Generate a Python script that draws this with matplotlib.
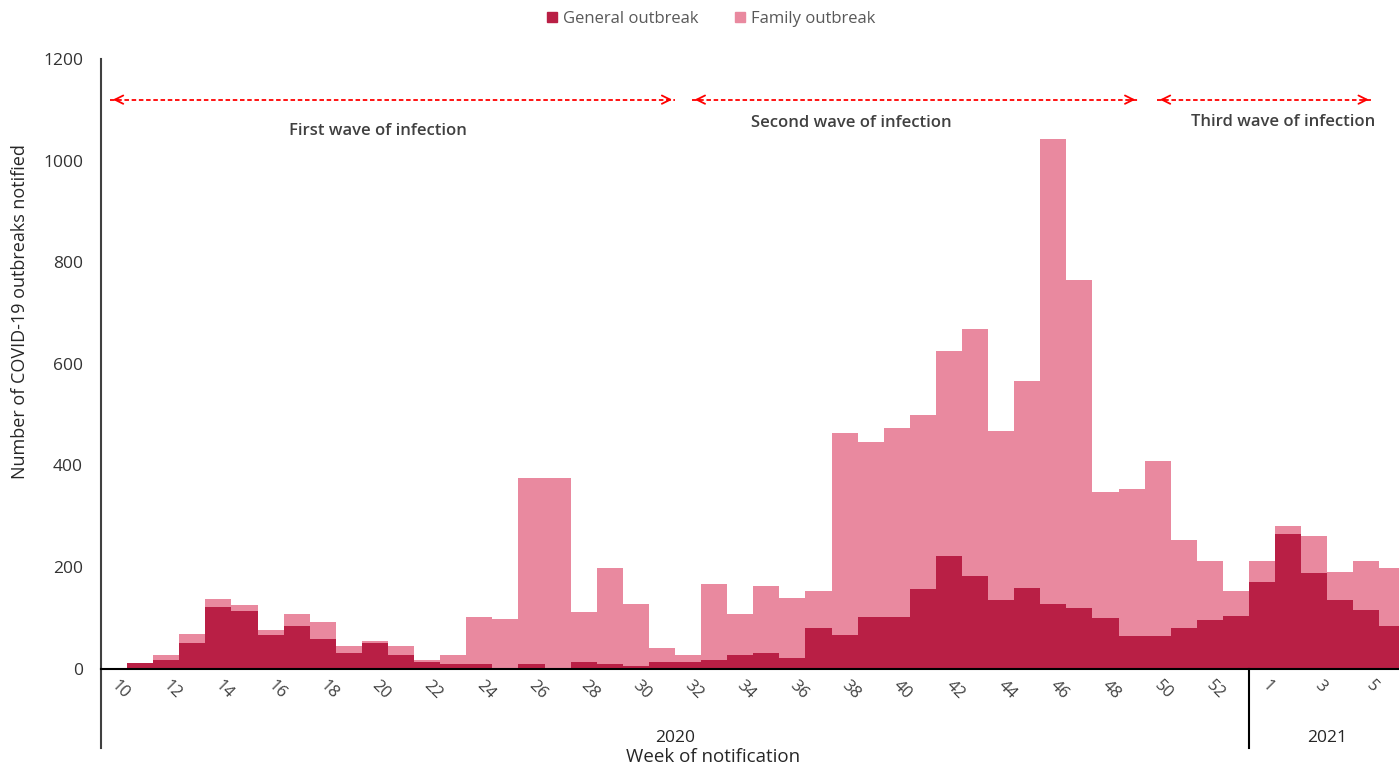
import matplotlib
matplotlib.use("Agg")
import matplotlib.pyplot as plt
import numpy as np
from matplotlib.transforms import ScaledTranslation
from matplotlib.lines import Line2D
from matplotlib.patches import Patch

plt.rcParams['font.family'] = ['Open Sans', 'DejaVu Sans']

# ---- data ----
weeks_2020 = list(range(10, 54))
weeks_2021 = list(range(1, 7))
week_labels = [str(w) for w in weeks_2020] + [str(w) for w in weeks_2021]

general = [0, 12, 18, 50, 121, 113, 66, 85, 58, 30,
           50, 26, 14, 10, 10, 2, 10, 1, 14, 10,
           6, 14, 14, 18, 26, 30, 22, 81, 66, 101,
           101, 156, 222, 183, 136, 159, 128, 120, 100, 65,
           65, 81, 96, 104,
           171, 266, 188, 136, 116, 85]
family = [0, 0, 8, 19, 16, 12, 10, 23, 34, 15,
          4, 19, 3, 16, 91, 95, 365, 374, 98, 189,
          122, 27, 12, 149, 82, 133, 118, 71, 397, 346,
          373, 343, 403, 485, 331, 407, 914, 646, 248, 288,
          343, 173, 115, 48,
          40, 15, 74, 55, 95, 114]

series_names = ["General outbreak", "Family outbreak"]
colors = ["#B91F45", "#E9899F"]
years = ["2020", "2021"]
waves = ["First wave of infection", "Second wave of infection", "Third wave of infection"]
yticks = [0, 200, 400, 600, 800, 1000, 1200]

# ---- figure ----
W, H = 1399, 766
fig = plt.figure(figsize=(W / 100, H / 100), dpi=100)
px_left, px_right, px_top, px_bot = 101, 1405.5, 59, 668.7
ax = fig.add_axes([px_left / W, 1 - px_bot / H, (px_right - px_left) / W, (px_bot - px_top) / H])

x = np.arange(len(week_labels))
ax.bar(x, general, width=1.0, color=colors[0], linewidth=0, label=series_names[0])
ax.bar(x, family, width=1.0, bottom=general, color=colors[1], linewidth=0, label=series_names[1])

ax.set_xlim(-0.5, len(week_labels) - 0.5)
ax.set_ylim(0, 1200)
ax.set_yticks(yticks)
ax.tick_params(axis='y', length=0, pad=13, labelsize=12.5, labelcolor='#333333')

# x tick labels: every other week
tick_idx = [i for i, w in enumerate(week_labels) if (i < len(weeks_2020) and int(w) % 2 == 0 and int(w) <= 52) or (i >= len(weeks_2020) and int(w) % 2 == 1)]
ax.set_xticks(tick_idx)
ax.set_xticklabels([week_labels[i] for i in tick_idx], rotation=-45, ha='center', va='top',
                   fontsize=12, color='#404040')
ax.tick_params(axis='x', length=0, pad=6)
off = ScaledTranslation(6 / 100, 0, fig.dpi_scale_trans)
for lab in ax.get_xticklabels():
    lab.set_transform(lab.get_transform() + off)

for s in ['top', 'right']:
    ax.spines[s].set_visible(False)
ax.spines['left'].set_color('#404040')
ax.spines['left'].set_linewidth(1.5)
ax.spines['bottom'].set_color('black')
ax.spines['bottom'].set_linewidth(1.5)

# extend left spine and year separator below the axis
ext = (748 - px_bot) / (px_bot - px_top)
trans = ax.get_xaxis_transform()
ax.add_line(Line2D([-0.5, -0.5], [0, -ext], transform=trans, color='#404040', lw=1.5, clip_on=False))
sep = len(weeks_2020) - 0.5
ax.add_line(Line2D([sep, sep], [0, -ext], transform=trans, color='black', lw=1.5, clip_on=False))

# year labels
ylab_y = -(738 - px_bot) / (px_bot - px_top)
ax.text((-0.5 + sep) / 2, ylab_y, years[0], transform=trans, ha='center', va='center', fontsize=12.5, color='#262626')
ax.text((sep + len(week_labels) - 0.5) / 2, ylab_y, years[1], transform=trans, ha='center', va='center', fontsize=12.5, color='#262626')
fig.text(713 / W, 1 - 757 / H, "Week of notification", ha='center', va='center', fontsize=13.5, color='#262626')

fig.text(20 / W, 1 - 312 / H, "Number of COVID-19 outbreaks notified", rotation=90,
         ha='center', va='center', fontsize=13, color='#262626')

# wave arrows
def arrow(x0, x1, y):
    ax.plot([x0, x1], [y, y], color='red', lw=1.3, ls=(0, (2.5, 1.5)))
    for xa, xb in [(x0 + 0.4, x0), (x1 - 0.4, x1)]:
        ax.annotate('', xy=(xb, y), xytext=(xa, y),
                    arrowprops=dict(arrowstyle='->,head_length=0.6,head_width=0.3', color='red', lw=1.3))

arrow(-0.15, 21.5, 1120)
arrow(22.15, 39.25, 1120)
arrow(39.98, 48.2, 1120)

ax.text(10.12, 1058, waves[0], ha='center', va='center', fontsize=12, fontweight='semibold', color='#404040')
ax.text(28.25, 1074, waves[1], ha='center', va='center', fontsize=12, fontweight='semibold', color='#404040')
ax.text(44.8, 1076, waves[2], ha='center', va='center', fontsize=12, fontweight='semibold', color='#404040')

handles = [Patch(color=colors[0]), Patch(color=colors[1])]
fig.legend(handles, series_names, loc='center', bbox_to_anchor=(711 / W, 1 - 19 / H), ncol=2,
           frameon=False, handlelength=0.6, handleheight=0.6, handletextpad=0.35, columnspacing=2.2,
           fontsize=12, labelcolor='#595959')

fig.savefig("out.png", dpi=100)
